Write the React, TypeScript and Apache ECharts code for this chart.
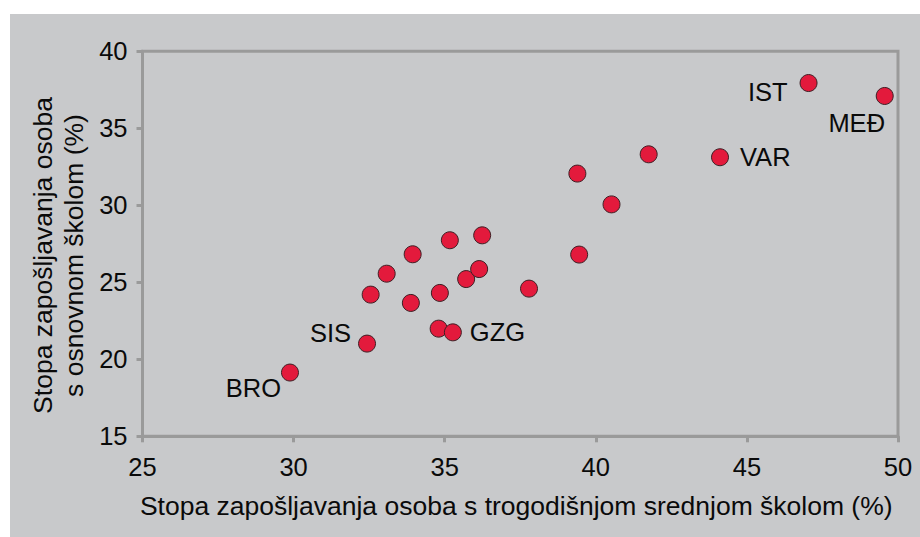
import React, { useEffect, useRef } from "react";
import * as echarts from "echarts";

const pointNames = [
  "BRO", "SIS", "", "", "", "", "", "", "GZG", "", "", "", "", "", "", "", "", "", "VAR", "IST", "MEĐ",
];
const xValues = [
  29.88, 32.43, 32.55, 33.08, 33.94, 33.88, 34.84, 34.8, 35.27, 35.17, 35.71, 36.14, 36.24, 37.79, 39.39,
  39.45, 40.52, 41.75, 44.11, 47.04, 49.56,
];
const yValues = [
  19.14, 21.02, 24.2, 25.56, 26.82, 23.66, 24.31, 21.99, 21.75, 27.73, 25.21, 25.86, 28.05, 24.59, 32.06,
  26.8, 30.06, 33.31, 33.12, 37.94, 37.1,
];
const xTitle = "Stopa zapošljavanja osoba s trogodišnjom srednjom školom (%)";
const yTitle = "Stopa zapošljavanja osoba\ns osnovnom školom (%)";

const FONT = "'Liberation Sans', Arial, sans-serif";
const FS = 25.5;
const TFS = 26.5;
const TEXT = "#0a0a0a";
const AXIS = "#9a9a9a";

const labelPlacement: Record<string, any> = {
  IST: { position: "left", distance: 12, offset: [0, 9] },
  "MEĐ": { position: "bottom", distance: 5, offset: [-28, 0] },
  VAR: { position: "right", distance: 11, offset: [0, 0] },
  SIS: { position: "left", distance: 7, offset: [0, -11] },
  GZG: { position: "right", distance: 8, offset: [0, 0] },
  BRO: { position: "left", distance: 0, offset: [0, 15] },
};

export default function App() {
  const ref = useRef<HTMLDivElement>(null);
  useEffect(() => {
    if (!ref.current) return;
    const chart = echarts.init(ref.current, undefined, { renderer: "svg" });
    const data = xValues.map((x, i) => {
      const name = pointNames[i];
      const item: any = { value: [x, yValues[i]], name };
      if (name && labelPlacement[name]) {
        item.label = {
          show: true,
          formatter: name,
          color: TEXT,
          fontFamily: FONT,
          fontSize: FS,
          lineHeight: 26,
          ...labelPlacement[name],
        };
      }
      return item;
    });
    chart.setOption({
      animation: false,
      backgroundColor: "#c8c9cb",
      textStyle: { fontFamily: FONT },
      grid: {
        left: 132.5,
        top: 37.3,
        right: 22,
        bottom: 100.7,
        show: true,
        borderColor: AXIS,
        borderWidth: 3,
        backgroundColor: "transparent",
        containLabel: false,
      },
      xAxis: {
        type: "value",
        min: 25,
        max: 50,
        interval: 5,
        name: xTitle,
        nameLocation: "middle",
        nameGap: 56,
        nameTextStyle: { color: TEXT, fontFamily: FONT, fontSize: TFS, lineHeight: 27, padding: [0, 8, 0, 0] },
        axisLine: { show: true, lineStyle: { color: AXIS, width: 3 } },
        axisTick: { show: true, length: 6, lineStyle: { color: AXIS, width: 3 } },
        axisLabel: { color: TEXT, fontFamily: FONT, fontSize: FS, margin: 18, lineHeight: 26 },
        splitLine: { show: false },
      },
      yAxis: {
        type: "value",
        min: 15,
        max: 40,
        interval: 5,
        axisLine: { show: true, lineStyle: { color: AXIS, width: 3 } },
        axisTick: { show: true, length: 6, lineStyle: { color: AXIS, width: 3 } },
        axisLabel: { color: TEXT, fontFamily: FONT, fontSize: FS, margin: 15 },
        splitLine: { show: false },
      },
      graphic: [
        {
          type: "text",
          x: 48.5,
          y: 241.5,
          rotation: Math.PI / 2,
          style: {
            text: yTitle,
            fill: TEXT,
            font: `${TFS}px ${FONT}`,
            fontSize: TFS,
            fontFamily: FONT,
            lineHeight: 31,
            align: "center",
            verticalAlign: "middle",
          },
        },
      ],
      series: [
        {
          type: "scatter",
          data,
          symbol: "circle",
          symbolSize: 17,
          itemStyle: { color: "#e31a3c", borderColor: "#3d1f24", borderWidth: 1, opacity: 1 },
          label: { show: false },
          emphasis: { disabled: true },
        },
      ],
    });
    return () => chart.dispose();
  }, []);
  return (
    <div
      ref={ref}
      style={{ position: "absolute", left: 10, top: 14, width: 910, height: 523 }}
    />
  );
}
